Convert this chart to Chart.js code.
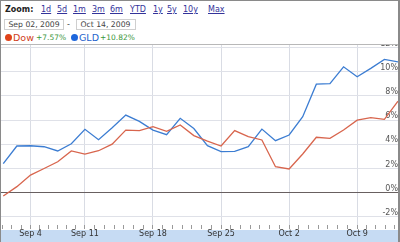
<!DOCTYPE html>
<html><head><meta charset="utf-8">
<script src="https://cdn.jsdelivr.net/npm/chart.js@4"></script>
<style>
html,body{margin:0;padding:0;background:#fff;}
#wrap{position:relative;width:400px;height:242px;overflow:hidden;font-family:"DejaVu Sans",Verdana,sans-serif;background:#fff;}
.t{position:absolute;white-space:nowrap;}
.lk{position:absolute;top:5px;line-height:10px;font-size:8px;color:#33339a;text-decoration:underline;white-space:nowrap;}
.box{position:absolute;top:19px;height:9px;width:57px;border:1px solid #cfcfcf;font-size:7.7px;line-height:9px;color:#444;padding-left:1px;white-space:nowrap;overflow:hidden;}
.dot{position:absolute;width:7px;height:7px;border-radius:50%;top:34px;}
#cw{position:absolute;left:0;top:45px;width:398px;height:197px;background:linear-gradient(to bottom,#fff 0,#fff 184.5px,#c6dbf3 184.5px,#c6dbf3 100%);}
</style></head>
<body>
<div id="wrap">
  <div class="t" style="left:5px;top:5px;line-height:10px;font-size:8px;font-weight:bold;color:#222;">Zoom:</div>
  <div class="lk" style="left:41px">1d</div>
  <div class="lk" style="left:57px">5d</div>
  <div class="lk" style="left:73px">1m</div>
  <div class="lk" style="left:92px">3m</div>
  <div class="lk" style="left:110px">6m</div>
  <div class="lk" style="left:130px">YTD</div>
  <div class="lk" style="left:153px">1y</div>
  <div class="lk" style="left:167px">5y</div>
  <div class="lk" style="left:183px">10y</div>
  <div class="lk" style="left:208px">Max</div>
  <div class="box" style="left:4px;">&nbsp;Sep 02, 2009</div>
  <div class="t" style="left:67px;top:20px;line-height:9px;font-size:8px;color:#444;">-</div>
  <div class="box" style="left:76px;">&nbsp;Oct 14, 2009</div>
  <div class="dot" style="left:5px;background:#e0431a;"></div>
  <div class="t" style="left:13px;top:32px;line-height:11px;font-size:9.5px;color:#d0401c;">Dow</div>
  <div class="t" style="left:36px;top:33px;line-height:9px;font-size:7.5px;color:#3a963a;">+7.57%</div>
  <div class="dot" style="left:71px;background:#1e66dc;"></div>
  <div class="t" style="left:79px;top:32px;line-height:11px;font-size:9.5px;color:#2462cc;">GLD</div>
  <div class="t" style="left:100px;top:33px;line-height:9px;font-size:7.5px;color:#3a963a;">+10.82%</div>
  <div style="position:absolute;left:0;top:44px;width:400px;height:1px;background:#b8b8b8;"></div>
  <div id="cw"><canvas id="c"></canvas></div>
  <div style="position:absolute;left:0;top:0;width:400px;height:1px;background:#8a8a8a;"></div>
  <div style="position:absolute;left:0;top:0;width:1px;height:242px;background:#8a8a8a;"></div>
  <div style="position:absolute;left:398px;top:0;width:2px;height:242px;background:#8a8a8a;"></div>
</div>
<script>
const dates = ['Sep 2','Sep 3','Sep 4','Sep 8','Sep 9','Sep 10','Sep 11','Sep 14','Sep 15','Sep 16','Sep 17','Sep 18',
  'Sep 21','Sep 22','Sep 23','Sep 24','Sep 25','Sep 28','Sep 29','Sep 30','Oct 1','Oct 2',
  'Oct 5','Oct 6','Oct 7','Oct 8','Oct 9','Oct 12','Oct 13','Oct 14'];
const dow = [-0.27,0.5,1.46,2.0,2.56,3.45,3.19,3.47,4.01,5.18,5.13,5.46,5.07,5.6,4.72,4.27,3.86,5.13,4.63,4.36,2.15,1.96,3.2,4.58,4.49,5.18,6.0,6.2,6.07,7.57];
const gld = [2.4,3.86,3.88,3.8,3.45,4.05,5.24,4.38,5.37,6.42,5.9,5.18,4.8,6.15,5.3,3.89,3.39,3.42,3.8,5.26,4.3,4.77,6.28,8.97,9.02,10.41,9.59,10.28,11.02,10.82];
const xTickLabels = ['Sep 4','Sep 11','Sep 18','Sep 25','Oct 2','Oct 9'];
const yTickValues = [-2,0,2,4,6,8,10,12];

const majorIdx = xTickLabels.map(l => dates.indexOf(l));
const X_MIN = -0.24, X_MAX = 29.0, MINOR = 0.69;

function buildXTicks() {
  const t = [];
  let v = majorIdx[0] - MINOR;
  while (v > X_MIN) { t.push({value: v}); v -= MINOR; }
  for (let k = 0; k < majorIdx.length; k++) {
    const a = majorIdx[k];
    t.push({value: a, major: true});
    if (k < majorIdx.length - 1) {
      const b = majorIdx[k + 1];
      const n = Math.round((b - a) / MINOR);
      for (let j = 1; j < n; j++) t.push({value: a + (b - a) * j / n});
    }
  }
  v = majorIdx[majorIdx.length - 1] + MINOR;
  while (v < X_MAX) { t.push({value: v}); v += MINOR; }
  t.sort((p, q) => p.value - q.value);
  return t;
}
const isMajor = v => majorIdx.includes(v);

new Chart(document.getElementById('c'), {
  type: 'line',
  data: {
    datasets: [
      {label: 'Dow', data: dates.map((d, i) => ({x: i, y: dow[i]})), borderColor: '#d8654d', borderWidth: 1.3, pointRadius: 0, tension: 0, fill: false},
      {label: 'GLD', data: dates.map((d, i) => ({x: i, y: gld[i]})), borderColor: '#3c7dd2', borderWidth: 1.3, pointRadius: 0, tension: 0, fill: false}
    ]
  },
  options: {
    responsive: true, maintainAspectRatio: false, animation: false, devicePixelRatio: 1,
    layout: {padding: 0},
    plugins: {legend: {display: false}, tooltip: {enabled: false}},
    scales: {
      x: {
        type: 'linear', min: X_MIN, max: X_MAX,
        afterBuildTicks: s => { s.ticks = buildXTicks(); },
        afterFit: s => { s.height = 17; s.paddingLeft = 0; s.paddingRight = 0; },
        border: {display: false},
        grid: {
          color: c => (c.tick && isMajor(c.tick.value)) ? '#d9dce4' : 'rgba(0,0,0,0)',
          tickColor: '#9a9a9a', tickLength: 4, drawTicks: true, lineWidth: 1
        },
        ticks: {
          autoSkip: false, maxRotation: 0, padding: 0, color: '#333',
          font: {family: 'DejaVu Sans', size: 8},
          callback: v => isMajor(v) ? dates[v] : ''
        }
      },
      y: {
        position: 'right', min: -2.67, max: 12.21,
        afterBuildTicks: s => { s.ticks = yTickValues.map(v => ({value: v})); },
        afterFit: s => { s.width = 0; s.paddingTop = 0; s.paddingBottom = 0; },
        border: {display: false},
        grid: {
          color: c => (c.tick && c.tick.value === 0) ? '#686060' : '#dfe1e8',
          drawTicks: false, lineWidth: 1
        },
        ticks: {
          mirror: true, padding: 0, labelOffset: -4, color: '#555',
          font: {family: 'DejaVu Sans', size: 8},
          callback: v => v + '%'
        }
      }
    }
  }
});
</script>
</body></html>
